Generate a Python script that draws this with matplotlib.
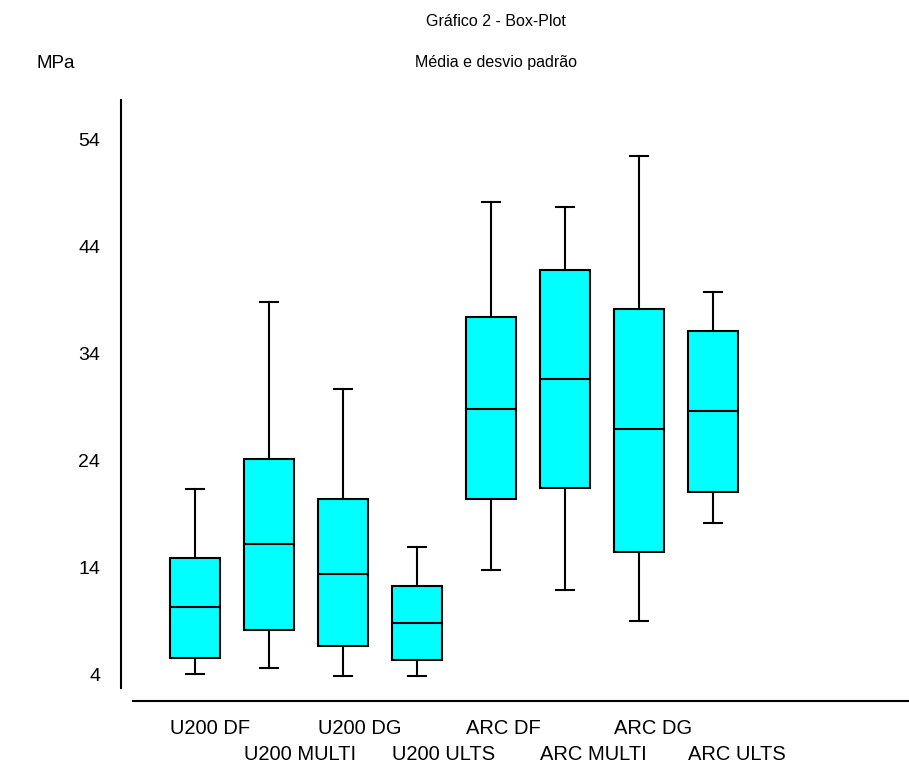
import matplotlib
matplotlib.use("Agg")
import matplotlib.pyplot as plt
from matplotlib.lines import Line2D
from matplotlib.transforms import blended_transform_factory

labels = ["U200 DF", "U200 MULTI", "U200 DG", "U200 ULTS",
          "ARC DF", "ARC MULTI", "ARC DG", "ARC ULTS"]
whis_lo = [4.1, 4.6, 3.9, 3.9, 13.8, 11.9, 9.0, 18.2]
q1 = [5.6, 8.2, 6.7, 5.4, 20.4, 21.4, 15.5, 21.1]
med = [10.3, 16.2, 13.4, 8.8, 28.8, 31.6, 26.9, 28.6]
q3 = [14.9, 24.1, 20.4, 12.3, 37.4, 41.8, 38.1, 36.1]
whis_hi = [21.3, 38.8, 30.7, 15.9, 48.1, 47.7, 52.4, 39.7]
yticks = [4, 14, 24, 34, 44, 54]

plt.rcParams['font.family'] = ['Liberation Sans', 'DejaVu Sans']

W, H = 909, 770
fig = plt.figure(figsize=(W / 100, H / 100), dpi=100)
ax = fig.add_axes([121 / W, 1 - 688 / H, (W - 121) / W, (688 - 100) / H])

stats = []
for i in range(len(labels)):
    stats.append(dict(whislo=whis_lo[i], q1=q1[i], med=med[i], q3=q3[i],
                      whishi=whis_hi[i], fliers=[]))

pos = list(range(1, len(labels) + 1))
bw = 0.68
ax.bxp(stats, positions=pos, widths=bw, capwidths=0.24, patch_artist=True,
       showfliers=False,
       boxprops=dict(facecolor='#00ffff', edgecolor='black', linewidth=1.5),
       medianprops=dict(color='black', linewidth=1.5),
       whiskerprops=dict(color='black', linewidth=1.5),
       capprops=dict(color='black', linewidth=1.5))

ax.set_xlim(0, 1 + (W - 195) / 74)
ax.set_ylim(2.78, 57.64)
ax.set_yticks(yticks)
ax.set_yticklabels([str(t) for t in yticks], fontsize=14)
ax.tick_params(axis='y', length=0, pad=15)
ax.set_xticks([])
for s in ['top', 'right', 'bottom']:
    ax.spines[s].set_visible(False)
ax.spines['left'].set_linewidth(1.5)

# separate baseline below the plot
fig.add_artist(Line2D([133 / W, 1], [1 - 701 / H, 1 - 701 / H],
                      color='black', linewidth=1.5))

tr = blended_transform_factory(ax.transData, fig.transFigure)
for i, lab in enumerate(labels):
    yy = 1 - (728 if i % 2 == 0 else 754) / H
    ax.text(pos[i] - bw / 2, yy, lab, transform=tr, ha='left', va='center',
            fontsize=14.5)

fig.text(496 / W, 1 - 22 / H, "Gráfico 2 - Box-Plot", ha='center',
         va='center', fontsize=11.5)
fig.text(496 / W, 1 - 63 / H, "Média e desvio padrão", ha='center',
         va='center', fontsize=11.5)
fig.text(37 / W, 1 - 63 / H, "MPa", ha='left', va='center', fontsize=13.5)

fig.savefig("out.png", dpi=100)
